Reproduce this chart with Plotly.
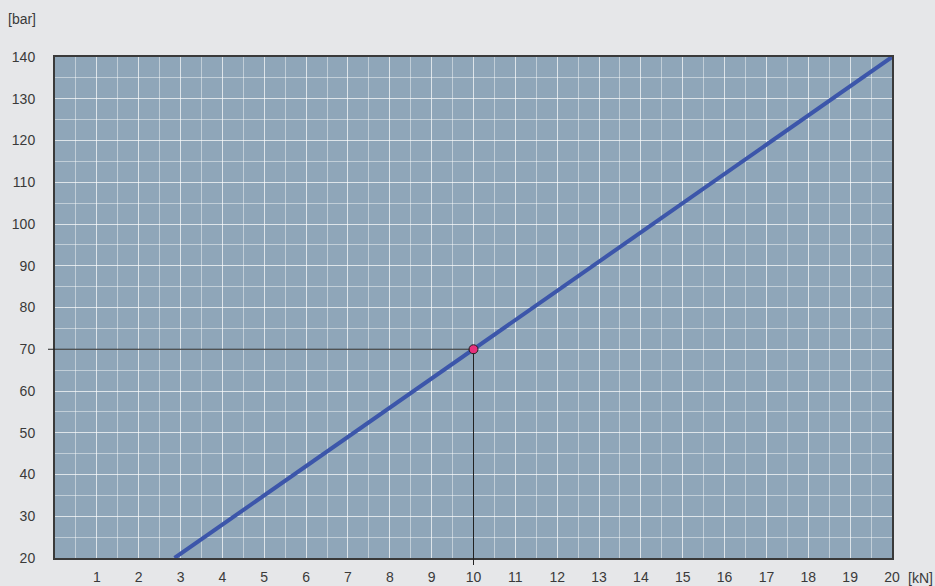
import plotly.graph_objects as go

# data
line_x = [2.857, 20]
line_y = [20, 140]
point_x = [10]
point_y = [70]
x_ticks = list(range(1, 21))
y_ticks = list(range(20, 150, 10))
x_range = [0, 20]
y_range = [20, 140]

W, H = 935, 586
ML, MR, MT, MB = 55, 43, 57, 28
plot_w = W - ML - MR
plot_h = H - MT - MB

font = dict(family="Liberation Sans, Arial, sans-serif", size=14, color="#3a3a3a")

def to_xpaper(x):
    return (x - x_range[0]) / (x_range[1] - x_range[0])

def to_ypaper(y):
    return (y - y_range[0]) / (y_range[1] - y_range[0])

fig = go.Figure()
fig.add_trace(go.Scatter(x=line_x, y=line_y, mode="lines",
                         line=dict(color="#3c56aa", width=4)))
fig.add_trace(go.Scatter(x=point_x, y=point_y, mode="markers", cliponaxis=False,
                         marker=dict(color="#e8307c", size=9,
                                     line=dict(color="#222222", width=1))))

over = 7
rad = 4
px_ = to_xpaper(point_x[0])
py_ = to_ypaper(point_y[0])
shapes = [
    dict(type="line", xref="paper", yref="paper",
         x0=-over / plot_w, x1=px_ - rad / plot_w,
         y0=py_, y1=py_,
         line=dict(color="#222222", width=1), layer="above"),
    dict(type="line", xref="paper", yref="paper",
         x0=px_, x1=px_,
         y0=-over / plot_h, y1=py_ - rad / plot_h,
         line=dict(color="#222222", width=1), layer="above"),
]

grid = "rgba(255,255,255,0.45)"
fig.update_layout(
    width=W, height=H,
    margin=dict(l=ML, r=MR, t=MT, b=MB, autoexpand=False),
    paper_bgcolor="#e6e7e9",
    plot_bgcolor="#8fa6b9",
    showlegend=False,
    font=font,
    shapes=shapes,
    xaxis=dict(range=x_range, tickvals=x_ticks, ticktext=[str(v) for v in x_ticks],
               showgrid=True, gridcolor=grid, gridwidth=1,
               minor=dict(dtick=0.5, tick0=0, showgrid=True, gridcolor=grid, gridwidth=1),
               ticks="outside", ticklen=5, tickcolor="rgba(0,0,0,0)",
               showline=True, linecolor="#3a3a3a", linewidth=2, mirror=True,
               zeroline=False, fixedrange=True, automargin=False),
    yaxis=dict(range=y_range, tickvals=y_ticks, ticktext=[str(v) for v in y_ticks],
               showgrid=True, gridcolor=grid, gridwidth=1,
               minor=dict(dtick=5, tick0=0, showgrid=True, gridcolor=grid, gridwidth=1),
               ticks="outside", ticklen=15, tickcolor="rgba(0,0,0,0)",
               showline=True, linecolor="#3a3a3a", linewidth=2, mirror=True,
               zeroline=False, fixedrange=True, automargin=False),
    annotations=[
        dict(text="[bar]", xref="paper", yref="paper", x=(22 - ML) / plot_w,
             y=1 + (MT - 19) / plot_h,
             xanchor="center", yanchor="middle", showarrow=False, font=font),
        dict(text="[kN]", xref="paper", yref="paper", x=(920 - ML) / plot_w,
             y=-(578 - (H - MB)) / plot_h,
             xanchor="center", yanchor="middle", showarrow=False, font=font),
    ],
)

fig.write_html("out.html", config={"displayModeBar": False},
               post_script="document.body.style.margin='0';document.body.style.background='#e6e7e9';")
